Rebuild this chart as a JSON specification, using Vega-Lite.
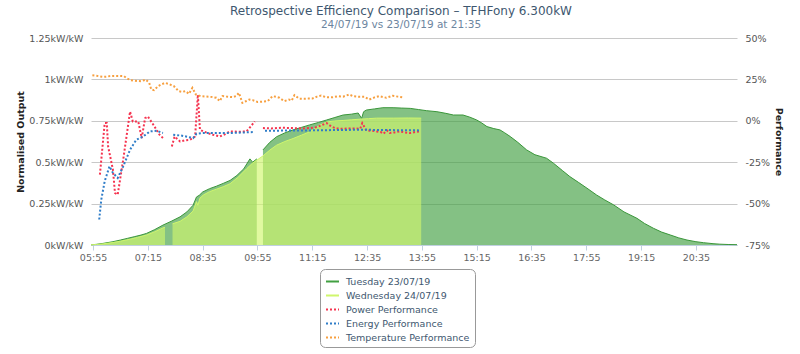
{
  "$schema": "https://vega.github.io/schema/vega-lite/v6.json",
  "width": 646,
  "height": 207,
  "autosize": {"type": "none"},
  "padding": {"left": 91, "top": 38, "right": 63, "bottom": 109},
  "background": "white",
  "title": {
    "text": "Retrospective Efficiency Comparison – TFHFony 6.300kW",
    "subtitle": "24/07/19 vs 23/07/19 at 21:35",
    "anchor": "middle",
    "dx": -13,
    "offset": 2,
    "font": "DejaVu Sans",
    "fontSize": 12,
    "fontWeight": "normal",
    "color": "#3e576f",
    "subtitleFont": "DejaVu Sans",
    "subtitleFontSize": 10.5,
    "subtitleColor": "#6d869f",
    "subtitlePadding": 2
  },
  "datasets": {
    "tue": [
      {"t": "05:52", "v": 0.001}, {"t": "06:00", "v": 0.004}, {"t": "06:10", "v": 0.01}, {"t": "06:24", "v": 0.02},
      {"t": "06:35", "v": 0.03}, {"t": "06:45", "v": 0.04}, {"t": "06:55", "v": 0.05}, {"t": "07:05", "v": 0.06},
      {"t": "07:13", "v": 0.07}, {"t": "07:25", "v": 0.093}, {"t": "07:37", "v": 0.12}, {"t": "07:50", "v": 0.145},
      {"t": "08:02", "v": 0.17}, {"t": "08:12", "v": 0.2}, {"t": "08:21", "v": 0.24}, {"t": "08:26", "v": 0.29},
      {"t": "08:30", "v": 0.3}, {"t": "08:35", "v": 0.32}, {"t": "08:45", "v": 0.34}, {"t": "08:55", "v": 0.355},
      {"t": "09:05", "v": 0.372}, {"t": "09:15", "v": 0.39}, {"t": "09:25", "v": 0.42}, {"t": "09:35", "v": 0.46},
      {"t": "09:44", "v": 0.52}, {"t": "09:48", "v": 0.5}, {"t": "09:54", "v": 0.52}, {"t": "09:58", "v": null},
      {"t": "10:03", "v": 0.574}, {"t": "10:13", "v": 0.62}, {"t": "10:23", "v": 0.654}, {"t": "10:35", "v": 0.677},
      {"t": "10:47", "v": 0.695}, {"t": "10:59", "v": 0.71}, {"t": "11:11", "v": 0.725}, {"t": "11:24", "v": 0.74},
      {"t": "11:36", "v": 0.755}, {"t": "11:48", "v": 0.77}, {"t": "12:00", "v": 0.785}, {"t": "12:12", "v": 0.79},
      {"t": "12:22", "v": 0.797}, {"t": "12:27", "v": 0.765}, {"t": "12:30", "v": 0.805}, {"t": "12:34", "v": 0.815},
      {"t": "12:46", "v": 0.822}, {"t": "12:58", "v": 0.829}, {"t": "13:13", "v": 0.829}, {"t": "13:25", "v": 0.827},
      {"t": "13:38", "v": 0.825}, {"t": "13:50", "v": 0.818}, {"t": "14:02", "v": 0.811}, {"t": "14:17", "v": 0.805},
      {"t": "14:30", "v": 0.795}, {"t": "14:41", "v": 0.785}, {"t": "14:55", "v": 0.785}, {"t": "15:05", "v": 0.772},
      {"t": "15:15", "v": 0.755}, {"t": "15:22", "v": 0.738}, {"t": "15:30", "v": 0.715}, {"t": "15:40", "v": 0.703},
      {"t": "15:49", "v": 0.695}, {"t": "15:56", "v": 0.677}, {"t": "16:04", "v": 0.655}, {"t": "16:15", "v": 0.62},
      {"t": "16:28", "v": 0.574}, {"t": "16:40", "v": 0.545}, {"t": "16:57", "v": 0.524}, {"t": "17:07", "v": 0.494},
      {"t": "17:20", "v": 0.45}, {"t": "17:31", "v": 0.413}, {"t": "17:44", "v": 0.377}, {"t": "17:56", "v": 0.343},
      {"t": "18:10", "v": 0.302}, {"t": "18:22", "v": 0.272}, {"t": "18:35", "v": 0.242}, {"t": "18:50", "v": 0.2},
      {"t": "19:09", "v": 0.161}, {"t": "19:20", "v": 0.13}, {"t": "19:33", "v": 0.101}, {"t": "19:45", "v": 0.078},
      {"t": "19:58", "v": 0.06}, {"t": "20:10", "v": 0.043}, {"t": "20:22", "v": 0.03}, {"t": "20:35", "v": 0.02},
      {"t": "20:46", "v": 0.014}, {"t": "21:00", "v": 0.008}, {"t": "21:10", "v": 0.005}, {"t": "21:22", "v": 0.003},
      {"t": "21:35", "v": 0.002}
    ],
    "wed": [
      {"t": "05:52", "v": 0.001}, {"t": "06:00", "v": 0.003}, {"t": "06:10", "v": 0.007}, {"t": "06:24", "v": 0.015},
      {"t": "06:35", "v": 0.023}, {"t": "06:49", "v": 0.035}, {"t": "07:00", "v": 0.046}, {"t": "07:13", "v": 0.06},
      {"t": "07:25", "v": 0.08}, {"t": "07:37", "v": 0.103}, {"t": "07:40", "v": 0.107}, {"t": "07:45", "v": null},
      {"t": "07:51", "v": 0.128}, {"t": "08:02", "v": 0.143}, {"t": "08:12", "v": 0.17}, {"t": "08:21", "v": 0.205},
      {"t": "08:26", "v": 0.262}, {"t": "08:28", "v": 0.24}, {"t": "08:31", "v": 0.283}, {"t": "08:36", "v": 0.302},
      {"t": "08:45", "v": 0.322}, {"t": "08:55", "v": 0.337}, {"t": "09:05", "v": 0.352}, {"t": "09:15", "v": 0.37},
      {"t": "09:27", "v": 0.41}, {"t": "09:39", "v": 0.46}, {"t": "09:48", "v": 0.495}, {"t": "09:54", "v": 0.512},
      {"t": "10:03", "v": 0.538}, {"t": "10:13", "v": 0.573}, {"t": "10:23", "v": 0.603}, {"t": "10:35", "v": 0.625},
      {"t": "10:47", "v": 0.643}, {"t": "10:59", "v": 0.663}, {"t": "11:11", "v": 0.683}, {"t": "11:20", "v": 0.706},
      {"t": "11:26", "v": 0.724}, {"t": "11:36", "v": 0.743}, {"t": "11:48", "v": 0.749}, {"t": "12:00", "v": 0.752},
      {"t": "12:12", "v": 0.756}, {"t": "12:25", "v": 0.76}, {"t": "12:37", "v": 0.763}, {"t": "12:49", "v": 0.766},
      {"t": "13:13", "v": 0.766}, {"t": "13:35", "v": 0.767}, {"t": "13:54", "v": 0.766}
    ],
    "power": [
      {"t": "06:05", "v": -32.5}, {"t": "06:12", "v": -1.4}, {"t": "06:15", "v": -1.4}, {"t": "06:17", "v": -15.5},
      {"t": "06:24", "v": -29.5}, {"t": "06:27", "v": -43.6}, {"t": "06:31", "v": -44.6}, {"t": "06:39", "v": -23.5},
      {"t": "06:49", "v": 5.6}, {"t": "06:53", "v": -0.4}, {"t": "07:01", "v": -0.4}, {"t": "07:06", "v": -10.4},
      {"t": "07:11", "v": 1.6}, {"t": "07:15", "v": 2.6}, {"t": "07:23", "v": -2.4}, {"t": "07:32", "v": -8.4},
      {"t": "07:37", "v": -10.4}, {"t": "07:44", "v": null}, {"t": "07:50", "v": -15.5}, {"t": "07:54", "v": -9.5},
      {"t": "08:02", "v": -12.5}, {"t": "08:09", "v": -11.8}, {"t": "08:16", "v": -11.5}, {"t": "08:24", "v": -9.5},
      {"t": "08:28", "v": 15.7}, {"t": "08:31", "v": -5.4}, {"t": "08:36", "v": -6.4}, {"t": "08:43", "v": -7.5},
      {"t": "08:50", "v": -8.4}, {"t": "09:00", "v": -9.5}, {"t": "09:08", "v": -8}, {"t": "09:15", "v": -6.4},
      {"t": "09:27", "v": -6.6}, {"t": "09:39", "v": -6.4}, {"t": "09:45", "v": -3.5}, {"t": "09:51", "v": -0.4},
      {"t": "09:57", "v": null}, {"t": "10:03", "v": -4.4}, {"t": "10:15", "v": -4.6}, {"t": "10:30", "v": -4.2},
      {"t": "10:47", "v": -4.4}, {"t": "11:00", "v": -4.6}, {"t": "11:11", "v": -4.4}, {"t": "11:22", "v": -3.8},
      {"t": "11:30", "v": -2.4}, {"t": "11:36", "v": -1.4}, {"t": "11:43", "v": -3.5}, {"t": "11:50", "v": -4.6},
      {"t": "12:00", "v": -4.8}, {"t": "12:12", "v": -4.6}, {"t": "12:25", "v": -4.8}, {"t": "12:28", "v": -1.4},
      {"t": "12:34", "v": -5.8}, {"t": "12:42", "v": -6}, {"t": "12:49", "v": -6.4}, {"t": "12:55", "v": -6.8},
      {"t": "12:59", "v": -7.8}, {"t": "13:04", "v": -5.8}, {"t": "13:08", "v": -7.4}, {"t": "13:15", "v": -7},
      {"t": "13:23", "v": -6.4}, {"t": "13:30", "v": -7}, {"t": "13:38", "v": -7.4}, {"t": "13:45", "v": -6.8},
      {"t": "13:52", "v": -6.4}
    ],
    "energy": [
      {"t": "06:04", "v": -59.6}, {"t": "06:07", "v": -47.6}, {"t": "06:12", "v": -36.5}, {"t": "06:19", "v": -27.5},
      {"t": "06:24", "v": -31.5}, {"t": "06:31", "v": -34.5}, {"t": "06:39", "v": -27.5}, {"t": "06:49", "v": -17.5},
      {"t": "06:58", "v": -11.5}, {"t": "07:08", "v": -9.5}, {"t": "07:18", "v": -6.4}, {"t": "07:28", "v": -6.0},
      {"t": "07:37", "v": -7.4}, {"t": "07:44", "v": null}, {"t": "07:52", "v": -8.4}, {"t": "08:05", "v": -9},
      {"t": "08:21", "v": -10.4}, {"t": "08:26", "v": -7.8}, {"t": "08:36", "v": -7.4}, {"t": "09:15", "v": -7.4},
      {"t": "09:49", "v": -6.8}, {"t": "09:57", "v": null}, {"t": "10:06", "v": -6.0}, {"t": "11:11", "v": -5.8},
      {"t": "12:25", "v": -5.4}, {"t": "13:52", "v": -5.8}
    ],
    "temp": [
      {"t": "05:54", "v": 27.5}, {"t": "06:00", "v": 27.2}, {"t": "06:05", "v": 26.8}, {"t": "06:10", "v": 26.5},
      {"t": "06:15", "v": 26.7}, {"t": "06:20", "v": 27.0}, {"t": "06:25", "v": 27.1}, {"t": "06:30", "v": 27.1},
      {"t": "06:35", "v": 27.1}, {"t": "06:40", "v": 27.0}, {"t": "06:45", "v": 25.5}, {"t": "06:50", "v": 24.5},
      {"t": "06:55", "v": 24.2}, {"t": "07:00", "v": 24.0}, {"t": "07:05", "v": 23.9}, {"t": "07:12", "v": 24.9},
      {"t": "07:17", "v": 22.9}, {"t": "07:20", "v": 18.9}, {"t": "07:24", "v": 18.5}, {"t": "07:30", "v": 20.9},
      {"t": "07:35", "v": 22.0}, {"t": "07:40", "v": 22.9}, {"t": "07:45", "v": 22.3}, {"t": "07:53", "v": 20.9},
      {"t": "08:00", "v": 17.9}, {"t": "08:05", "v": 17.5}, {"t": "08:10", "v": 17.9}, {"t": "08:15", "v": 16.3},
      {"t": "08:20", "v": 19.9}, {"t": "08:25", "v": 15.9}, {"t": "08:32", "v": 14.9}, {"t": "08:38", "v": 14.7},
      {"t": "08:45", "v": 14.5}, {"t": "08:50", "v": 14.3}, {"t": "08:55", "v": 13.9}, {"t": "09:00", "v": 11.9},
      {"t": "09:04", "v": 14.9}, {"t": "09:10", "v": 14.6}, {"t": "09:19", "v": 14.3}, {"t": "09:24", "v": 15.0},
      {"t": "09:28", "v": 16.9}, {"t": "09:33", "v": 10.8}, {"t": "09:38", "v": 11.8}, {"t": "09:43", "v": 12.8},
      {"t": "09:48", "v": 12.5}, {"t": "09:55", "v": 11.4}, {"t": "10:03", "v": 11.6}, {"t": "10:10", "v": 11.9},
      {"t": "10:17", "v": 14.9}, {"t": "10:22", "v": 14.5}, {"t": "10:27", "v": 13.9}, {"t": "10:34", "v": 11.9},
      {"t": "10:41", "v": 12.8}, {"t": "10:45", "v": 12.2}, {"t": "10:49", "v": 15.5}, {"t": "10:56", "v": 13.4},
      {"t": "11:03", "v": 13.3}, {"t": "11:09", "v": 13.4}, {"t": "11:15", "v": 13.4}, {"t": "11:22", "v": 14.6},
      {"t": "11:28", "v": 15.2}, {"t": "11:35", "v": 14.3}, {"t": "11:45", "v": 14.2}, {"t": "11:52", "v": 14.8},
      {"t": "12:00", "v": 14.6}, {"t": "12:09", "v": 15.9}, {"t": "12:15", "v": 14.8}, {"t": "12:24", "v": 14.5},
      {"t": "12:31", "v": 14.5}, {"t": "12:38", "v": 12.8}, {"t": "12:45", "v": 14.0}, {"t": "12:53", "v": 14.9},
      {"t": "13:03", "v": 13.9}, {"t": "13:12", "v": 15.1}, {"t": "13:20", "v": 14.6}, {"t": "13:27", "v": 14.2}
    ]
  },
  "encoding": {
    "x": {
      "field": "t",
      "type": "temporal",
      "scale": {
        "domain": [
          {"year": 1900, "month": 1, "date": 1, "hours": 5, "minutes": 52},
          {"year": 1900, "month": 1, "date": 1, "hours": 21, "minutes": 35}
        ],
        "nice": false
      },
      "axis": {
        "values": [
          {"year": 1900, "month": 1, "date": 1, "hours": 5, "minutes": 55},
          {"year": 1900, "month": 1, "date": 1, "hours": 7, "minutes": 15},
          {"year": 1900, "month": 1, "date": 1, "hours": 8, "minutes": 35},
          {"year": 1900, "month": 1, "date": 1, "hours": 9, "minutes": 55},
          {"year": 1900, "month": 1, "date": 1, "hours": 11, "minutes": 15},
          {"year": 1900, "month": 1, "date": 1, "hours": 12, "minutes": 35},
          {"year": 1900, "month": 1, "date": 1, "hours": 13, "minutes": 55},
          {"year": 1900, "month": 1, "date": 1, "hours": 15, "minutes": 15},
          {"year": 1900, "month": 1, "date": 1, "hours": 16, "minutes": 35},
          {"year": 1900, "month": 1, "date": 1, "hours": 17, "minutes": 55},
          {"year": 1900, "month": 1, "date": 1, "hours": 19, "minutes": 15},
          {"year": 1900, "month": 1, "date": 1, "hours": 20, "minutes": 35}
        ],
        "format": "%H:%M",
        "labelFlush": false,
        "labelOverlap": false,
        "grid": false,
        "title": null,
        "domainColor": "#c0d0e0",
        "tickColor": "#c0d0e0",
        "tickSize": 5,
        "labelPadding": 2,
        "labelColor": "#666666",
        "labelFont": "DejaVu Sans",
        "labelFontSize": 9.5
      }
    }
  },
  "layer": [
    {
      "encoding": {
        "y": {
          "field": "v",
          "type": "quantitative",
          "scale": {"domain": [0, 1.25], "nice": false, "zero": false},
          "axis": {
            "orient": "left",
            "values": [0, 0.25, 0.5, 0.75, 1, 1.25],
            "labelExpr": "datum.value + 'kW/kW'",
            "domain": false,
            "ticks": false,
            "grid": true,
            "gridColor": "#c8c8c8",
            "gridWidth": 1,
            "labelPadding": 8,
            "labelColor": "#555555",
            "labelFont": "DejaVu Sans",
            "labelFontSize": 9.5,
            "title": "Normalised Output",
            "titleFont": "DejaVu Sans",
            "titleFontSize": 9.5,
            "titleFontWeight": "bold",
            "titleColor": "#222222",
            "titleAngle": -90,
            "titleX": -71,
            "titleY": 103.5,
            "titleAlign": "center",
            "titleBaseline": "middle"
          }
        }
      },
      "layer": [
        {
          "data": {"name": "tue", "format": {"parse": {"t": "date:'%H:%M'"}}},
          "mark": {"type": "area", "fillOpacity": 0.65, "line": {"strokeWidth": 1, "stroke": "#3a963a"}, "invalid": "break-paths-filter-domains"},
          "encoding": {
            "color": {
              "datum": "Tuesday 23/07/19",
              "scale": {
                "domain": ["Tuesday 23/07/19", "Wednesday 24/07/19", "Power Performance", "Energy Performance", "Temperature Performance"],
                "range": ["#42a042", "#cff66d", "#f5334f", "#2f7dc8", "#f7a040"]
              },
              "legend": {
                "orient": "none",
                "legendX": 229,
                "legendY": 231,
                "title": null,
                "symbolType": "stroke",
                "symbolSize": 169,
                "symbolStrokeWidth": 2,
                "labelFont": "DejaVu Sans",
                "labelFontSize": 9.5,
                "labelColor": "#3e576f",
                "labelOffset": 6,
                "padding": 5,
                "rowPadding": 2,
                "strokeColor": "#999999",
                "fillColor": "#ffffff",
                "cornerRadius": 5,
                "encode": {
                  "symbols": {
                    "update": {
                      "stroke": {"scale": "color", "field": "value"},
                      "fill": {"value": "transparent"},
                      "opacity": {"value": 1},
                      "strokeWidth": {"value": 2},
                      "strokeDash": [
                        {"test": "indexof(datum.value, 'Performance') >= 0", "value": [2, 2]},
                        {"value": [1, 0]}
                      ]
                    }
                  }
                }
              }
            }
          }
        },
        {
          "data": {"name": "wed", "format": {"parse": {"t": "date:'%H:%M'"}}},
          "mark": {"type": "area", "fillOpacity": 0.65, "line": {"strokeWidth": 1}, "invalid": "break-paths-filter-domains"},
          "encoding": {
            "color": {"datum": "Wednesday 24/07/19"}
          }
        }
      ]
    },
    {
      "encoding": {
        "y": {
          "field": "v",
          "type": "quantitative",
          "scale": {"domain": [-75, 50], "nice": false, "zero": false},
          "axis": {
            "orient": "right",
            "values": [-75, -50, -25, 0, 25, 50],
            "labelExpr": "datum.value + '%'",
            "domain": false,
            "ticks": false,
            "grid": false,
            "labelPadding": 8,
            "labelColor": "#555555",
            "labelFont": "DejaVu Sans",
            "labelFontSize": 9.5,
            "title": "Performance",
            "titleFont": "DejaVu Sans",
            "titleFontSize": 9.5,
            "titleFontWeight": "bold",
            "titleColor": "#222222",
            "titleAngle": 90,
            "titleX": 41,
            "titleY": 103.5,
            "titleAlign": "center",
            "titleBaseline": "middle"
          }
        }
      },
      "layer": [
        {
          "data": {"name": "power", "format": {"parse": {"t": "date:'%H:%M'"}}},
          "mark": {"type": "line", "strokeWidth": 2, "strokeDash": [2, 2], "invalid": "break-paths-filter-domains"},
          "encoding": {"color": {"datum": "Power Performance"}}
        },
        {
          "data": {"name": "energy", "format": {"parse": {"t": "date:'%H:%M'"}}},
          "mark": {"type": "line", "strokeWidth": 2, "strokeDash": [2, 2], "invalid": "break-paths-filter-domains"},
          "encoding": {"color": {"datum": "Energy Performance"}}
        },
        {
          "data": {"name": "temp", "format": {"parse": {"t": "date:'%H:%M'"}}},
          "mark": {"type": "line", "strokeWidth": 2, "strokeDash": [2, 2], "invalid": "break-paths-filter-domains"},
          "encoding": {"color": {"datum": "Temperature Performance"}}
        }
      ]
    }
  ],
  "resolve": {"scale": {"y": "independent"}},
  "config": {
    "view": {"stroke": null},
    "font": "DejaVu Sans"
  }
}
